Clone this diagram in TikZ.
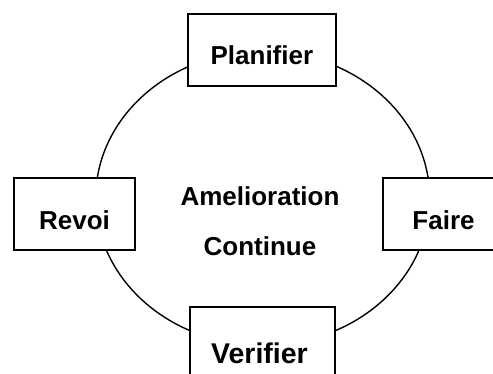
\documentclass[tikz,border=0pt]{standalone}
\usepackage{fontspec}
\setmainfont{Liberation Sans}
\begin{document}
\begin{tikzpicture}[x=1pt,y=-1pt,
  cyclebox/.style={draw=black,fill=white,line width=1.8pt,rectangle,inner sep=0pt,minimum height=72pt},
  boxtext/.style={anchor=base,inner sep=0pt,font=\bfseries\fontsize{26}{30}\selectfont},
  bigtext/.style={anchor=base,inner sep=0pt,font=\bfseries\fontsize{28.5}{32}\selectfont}]
\useasboundingbox (0,0) rectangle (493,374);
\clip (0,0) rectangle (493,374);
\fill[white] (0,0) rectangle (493,374);
% cycle ellipse
\draw[line width=1.4pt] (262.7,198.3) ellipse [x radius=167, y radius=147];
% boxes
\node[cyclebox,minimum width=148.3pt] (plan) at (261.9,50) {};
\node[cyclebox,minimum width=121pt] (rev) at (74.5,214) {};
\node[cyclebox,minimum width=121pt] (faire) at (443.5,214) {};
\node[cyclebox,minimum width=145pt] (ver) at (262.5,343) {};
% labels
\node[boxtext] (tplan) at (261.9,65) {Planifier};
\node[boxtext] (trev) at (74.5,230) {Revoi};
\node[boxtext] (tfaire) at (443.5,229.5) {Faire};
\node[bigtext] (tver) at (259.5,363) {Verifier};
\node[boxtext] (tam) at (260,206) {Amelioration};
\node[boxtext] (tcont) at (260,256) {Continue};
\end{tikzpicture}
\end{document}
